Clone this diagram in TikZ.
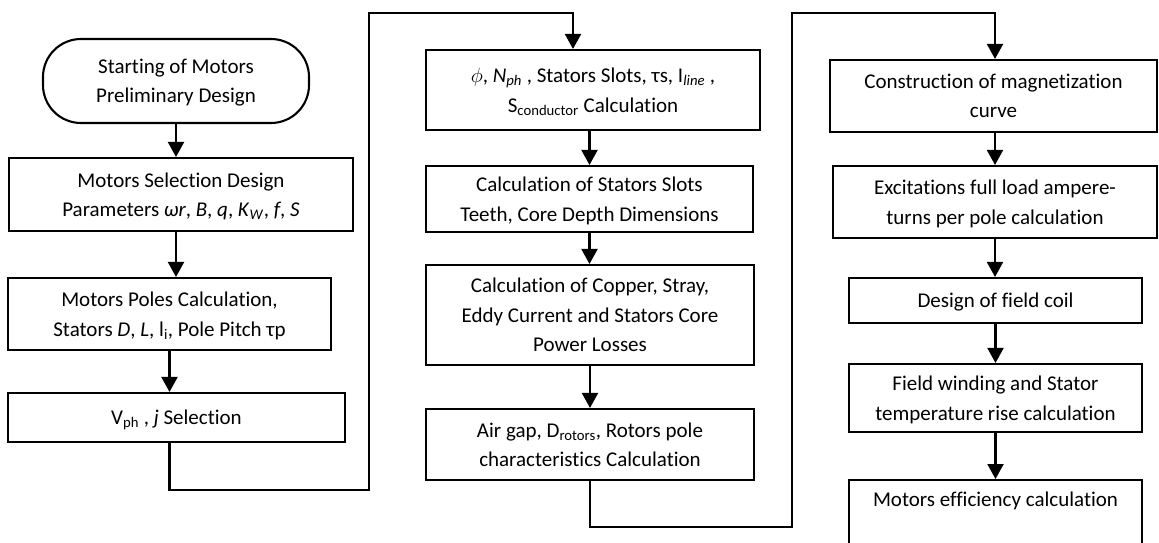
\documentclass[tikz,border=0pt]{standalone}
\usepackage{fontspec}
\setmainfont{Carlito}[Ligatures=NoCommon]
\usetikzlibrary{arrows.meta}

\begin{document}
\begin{tikzpicture}[x=1pt, y=-1pt]
		\tikzset{
			every node/.style={
				draw,
				align=center,
				line width=2.1pt,
				inner sep=0pt,
				text depth=-3pt,
				font=\fontsize{21}{29.5}\selectfont
			},
			terminal/.style={
				rectangle,
				rounded corners=38pt
			},
			stage/.style={
				rectangle
			},
			line/.style={
				-{Triangle[width=16pt, length=15pt]},
				line width=2.1pt
			}
		}

		\useasboundingbox (0, 0) rectangle (1159, 543);
		\clip (0, 0) rectangle (1159, 543);

		% first column
		\node[terminal, minimum width=266pt, minimum height=84pt] (start) at (176, 81)
			{Starting of Motors\\Preliminary Design};
		\node[stage, minimum width=344pt, minimum height=73pt] (sel) at (181, 194.5)
			{Motors Selection Design\\Parameters \textit{ωr}, \textit{B}, \textit{q}, \textit{K}\textsubscript{\textit{W}}, \textit{f}, \textit{S}};
		\node[stage, minimum width=323pt, minimum height=72pt] (poles) at (169.5, 314)
			{Motors Poles Calculation,\\Stators \textit{D}, \textit{L}, l\textsubscript{i}, Pole Pitch τp};
		\node[stage, minimum width=337pt, minimum height=49pt] (vph) at (176.5, 417.5)
			{V\textsubscript{ph} ,\ \textit{j}\ Selection};

		% second column
		\node[stage, minimum width=334pt, minimum height=80pt] (flux) at (593, 90)
			{$\phi$, \textit{N\textsubscript{ph}} , Stators Slots, τs, I\textsubscript{\textit{line}} ,\\S\textsubscript{conductor} Calculation};
		\node[stage, minimum width=327pt, minimum height=66pt] (slots) at (589.5, 199)
			{Calculation of Stators Slots\\Teeth, Core Depth Dimensions};
		\node[stage, minimum width=328pt, minimum height=100pt] (losses) at (590, 315)
			{Calculation of Copper, Stray,\\Eddy Current and Stators Core\\Power Losses};
		\node[stage, minimum width=328pt, minimum height=71pt] (airgap) at (590, 444.5)
			{Air gap, D\textsubscript{rotors}, Rotors pole\\characteristics Calculation};

		% third column
		\node[stage, minimum width=327pt, minimum height=72pt] (magn) at (993.5, 96)
			{Construction of magnetization\\curve};
		\node[stage, minimum width=324pt, minimum height=72pt] (excit) at (995, 202)
			{Excitations full load ampere-\\turns per pole calculation};
		\node[stage, minimum width=293pt, minimum height=45pt] (coil) at (995.5, 300.5)
			{Design of field coil};
		\node[stage, minimum width=293pt, minimum height=68pt] (temp) at (995.5, 398)
			{Field winding and Stator\\temperature rise calculation};
		\node[stage, minimum width=293pt, anchor=north, inner ysep=11pt,
			text height=15pt, text depth=62pt] (eff) at (995.5, 479)
			{Motors efficiency calculation};

		% bends of the two return lines
		\coordinate (low1) at (369, 490);
		\coordinate (top1) at (369, 13);
		\coordinate (low2) at (792, 527);
		\coordinate (top2) at (792, 13);

		\draw[line] (start.south) -- (start.south |- sel.north);
		\draw[line] (sel.south -| start.south) -- (poles.north -| start.south);
		\draw[line] (poles.south) -- (poles.south |- vph.north);
		\draw[line] (vph.south -| poles.south) |- (low1) -- (top1)
			-| ([xshift=-20pt]flux.north);

		\draw[line] (flux.south -| slots.south) -- (slots.north);
		\draw[line] (slots.south) -- (slots.south |- losses.north);
		\draw[line] (losses.south) -- (airgap.north);
		\draw[line] (airgap.south) |- (low2) -- (top2) -| (excit.north |- magn.north);

		\draw[line] (magn.south -| excit.north) -- (excit.north);
		\draw[line] (excit.south) -- (excit.south |- coil.north);
		\draw[line] (coil.south) -- (temp.north);
		\draw[line] (temp.south) -- (eff.north);

	\end{tikzpicture}
\end{document}
